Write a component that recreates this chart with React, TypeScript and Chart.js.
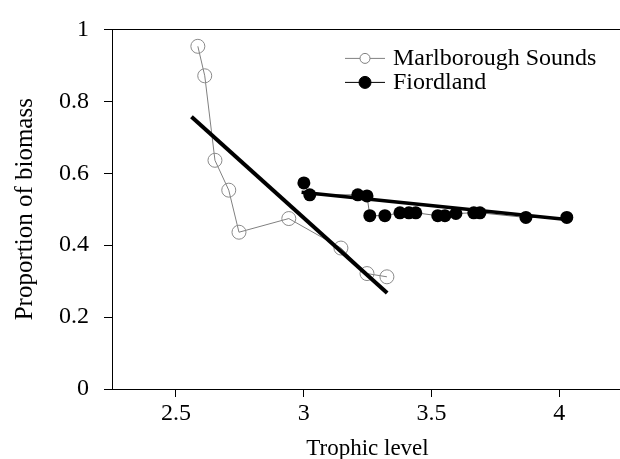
import React, { useEffect, useRef } from "react";
import { Chart, registerables } from "chart.js";

Chart.register(...registerables);

// Marlborough Sounds (open circles)
const marlX = [2.586, 2.613, 2.653, 2.707, 2.747, 2.942, 3.146, 3.248, 3.326];
const marlY = [0.953, 0.871, 0.636, 0.553, 0.436, 0.474, 0.392, 0.321, 0.312];

// Fiordland (filled circles)
const fiorX = [3.001, 3.024, 3.212, 3.248, 3.259, 3.318, 3.377, 3.412, 3.439, 3.525, 3.553, 3.596, 3.666, 3.69, 3.87, 4.03];
const fiorY = [0.573, 0.54, 0.54, 0.537, 0.482, 0.482, 0.49, 0.49, 0.49, 0.482, 0.482, 0.488, 0.49, 0.49, 0.477, 0.477];

// Fitted regression lines (end points)
const marlFitX = [2.561, 3.327];
const marlFitY = [0.757, 0.267];
const fiorFitX = [2.992, 4.049];
const fiorFitY = [0.547, 0.47];

const seriesNames = ["Marlborough Sounds", "Fiordland"];
const xTicks = [2.5, 3, 3.5, 4];
const yTicks = [0, 0.2, 0.4, 0.6, 0.8, 1];
const xTitle = "Trophic level";
const yTitle = "Proportion of biomass";

const FONT = "'Liberation Serif', 'DejaVu Serif', serif";
const W = 631;
const H = 466;

const zip = (xs: number[], ys: number[]) => xs.map((x, i) => ({ x, y: ys[i] }));

export default function App() {
  const ref = useRef<HTMLCanvasElement>(null);

  useEffect(() => {
    if (!ref.current) return;
    const legendPlugin = {
      id: "customLegend",
      afterDraw(chart: any) {
        const { ctx, chartArea } = chart;
        const x0 = chartArea.right - 278;
        const rows = [chartArea.top + 29, chartArea.top + 53];
        const styles = [
          { line: "#808080", stroke: "#808080", fill: "#ffffff", r: 5 },
          { line: "#000000", stroke: "#000000", fill: "#000000", r: 6 },
        ];
        ctx.save();
        seriesNames.forEach((name, i) => {
          const y = rows[i];
          const s = styles[i];
          ctx.strokeStyle = s.line;
          ctx.lineWidth = 1;
          ctx.beginPath();
          ctx.moveTo(x0, y);
          ctx.lineTo(x0 + 40, y);
          ctx.stroke();
          ctx.beginPath();
          ctx.arc(x0 + 20, y, s.r, 0, Math.PI * 2);
          ctx.fillStyle = s.fill;
          ctx.fill();
          ctx.strokeStyle = s.stroke;
          ctx.stroke();
          ctx.fillStyle = "#000";
          ctx.font = `24px ${FONT}`;
          ctx.textBaseline = "middle";
          ctx.textAlign = "left";
          ctx.fillText(name, x0 + 48, y + 0.5);
        });
        ctx.restore();
      },
    };

    const chart = new Chart(ref.current, {
      type: "scatter",
      data: {
        datasets: [
          {
            label: seriesNames[0],
            data: zip(marlX, marlY),
            showLine: true,
            borderColor: "#808080",
            borderWidth: 1,
            pointRadius: 7,
            pointBackgroundColor: "rgba(0,0,0,0)",
            pointBorderColor: "#8a8a8a",
            pointBorderWidth: 1,
            order: 2,
          },
          {
            label: seriesNames[1],
            data: zip(fiorX, fiorY),
            showLine: true,
            borderColor: "#707070",
            borderWidth: 1,
            pointRadius: 6.5,
            pointBackgroundColor: "#000",
            pointBorderColor: "#000",
            pointBorderWidth: 0,
            order: 2,
          },
          {
            label: "fit1",
            data: zip(marlFitX, marlFitY),
            showLine: true,
            borderColor: "#000",
            borderWidth: 4,
            pointRadius: 0,
            order: 1,
          },
          {
            label: "fit2",
            data: zip(fiorFitX, fiorFitY),
            showLine: true,
            borderColor: "#000",
            borderWidth: 3.5,
            pointRadius: 0,
            order: 1,
          },
        ],
      },
      options: {
        responsive: false,
        animation: false,
        devicePixelRatio: 1,
        layout: { padding: { top: 24, right: 1, left: 0, bottom: 0 } },
        plugins: {
          legend: { display: false },
          tooltip: { enabled: false },
        },
        scales: {
          x: {
            type: "linear",
            position: "bottom",
            min: 2.25,
            max: 4.25,
            afterBuildTicks: (s: any) => {
              s.ticks = xTicks.map((v) => ({ value: v }));
            },
            afterFit: (s: any) => {
              s.height = H - 389;
              s.paddingLeft = 0;
              s.paddingRight = 0;
            },
            grid: { drawOnChartArea: false, drawTicks: true, tickLength: 8, color: "#000" },
            border: { display: true, color: "#000", width: 1 },
            ticks: {
              color: "#000",
              font: { family: FONT, size: 24 },
              padding: 2,
              maxRotation: 0,
              autoSkip: false,
              callback: (v: any) => String(v),
            },
            title: {
              display: true,
              text: xTitle,
              color: "#000",
              font: { family: FONT, size: 23 },
              padding: { top: 0, bottom: 3 },
            },
          },
          x2: {
            type: "linear",
            position: "top",
            min: 2.25,
            max: 4.25,
            afterFit: (s: any) => {
              s.height = 0;
              s.paddingLeft = 0;
              s.paddingRight = 0;
            },
            grid: { display: false, drawTicks: false },
            border: { display: true, color: "#000", width: 1 },
            ticks: { display: false },
          },
          y: {
            type: "linear",
            position: "left",
            min: 0,
            max: 1,
            afterBuildTicks: (s: any) => {
              s.ticks = yTicks.map((v) => ({ value: v }));
            },
            afterFit: (s: any) => {
              s.width = 112;
            },
            grid: { drawOnChartArea: false, drawTicks: true, tickLength: 8, color: "#000" },
            border: { display: true, color: "#000", width: 1 },
            ticks: {
              color: "#000",
              font: { family: FONT, size: 24 },
              padding: 15,
              autoSkip: false,
              callback: (v: any) => String(v),
            },
            title: {
              display: true,
              text: yTitle,
              color: "#000",
              font: { family: FONT, size: 25 },
              padding: { top: 10, bottom: 0 },
            },
          },
        },
      },
      plugins: [legendPlugin],
    } as any);
    return () => chart.destroy();
  }, []);

  return (
    <div
      style={{
        position: "fixed",
        left: 0,
        top: 0,
        width: 620,
        height: 459,
        overflow: "hidden",
        background: "#fff",
      }}
    >
      <canvas ref={ref} width={W} height={H} style={{ display: "block", width: W, height: H }} />
    </div>
  );
}
